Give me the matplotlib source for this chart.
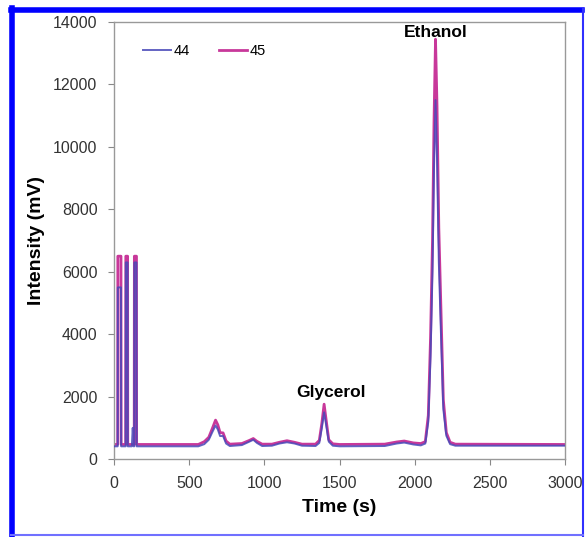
import matplotlib.pyplot as plt
from matplotlib.lines import Line2D

plt.rcParams['font.family'] = ['Liberation Sans', 'DejaVu Sans']

# series 44 (blue)
t44 = [0, 24, 25, 46, 47, 77, 78, 90, 91, 118, 124, 130, 134, 135, 149, 150,
       560, 600, 630, 655, 675, 690, 705, 725, 745, 770, 850, 900, 926, 950, 985,
       1050, 1100, 1150, 1200, 1250, 1340, 1365, 1382, 1397, 1412, 1428, 1455, 1500,
       1800, 1880, 1930, 1990, 2040, 2070, 2090, 2105, 2118, 2128, 2138, 2148,
       2160, 2173, 2190, 2210, 2235, 2270, 3000]
v44 = [410, 410, 5500, 5500, 410, 410, 6300, 6300, 410, 410, 1000, 410, 410, 6300, 6300, 410,
       410, 480, 620, 880, 1080, 950, 740, 740, 500, 420, 450, 560, 620, 520, 420,
       430, 500, 540, 500, 430, 420, 520, 1000, 1500, 1050, 560, 430, 410,
       420, 500, 530, 470, 440, 500, 1200, 3300, 6000, 9300, 11500, 9600,
       6300, 4200, 1600, 750, 480, 430, 430]

# series 45 (magenta)
t45 = [0, 24, 25, 46, 47, 77, 78, 90, 91, 134, 135, 149, 150,
       560, 600, 630, 655, 675, 690, 705, 725, 745, 770, 850, 900, 926, 950, 985,
       1050, 1100, 1150, 1200, 1250, 1340, 1365, 1382, 1397, 1412, 1428, 1455, 1500,
       1800, 1880, 1930, 1990, 2040, 2070, 2090, 2105, 2118, 2128, 2138, 2148,
       2160, 2173, 2190, 2210, 2235, 2270, 3000]
v45 = [470, 470, 6500, 6500, 470, 470, 6500, 6500, 470, 470, 6500, 6500, 470,
       470, 560, 700, 1000, 1250, 1100, 850, 840, 580, 480, 500, 600, 660, 570, 480,
       480, 540, 590, 540, 480, 480, 600, 1150, 1760, 1200, 620, 490, 470,
       480, 550, 580, 520, 500, 560, 1400, 3900, 7000, 10800, 13450, 11300,
       7400, 5000, 1900, 850, 540, 480, 470]

fig = plt.figure(figsize=(5.85, 5.37), dpi=100)
ax = fig.add_axes([0.195, 0.145, 0.771, 0.814])

ax.plot(t45, v45, color='#c8389a', lw=2.0, label='45', zorder=2)
ax.plot(t44, v44, color='#4848b8', lw=1.4, alpha=0.85, label='44', zorder=3)

ax.set_xlim(0, 3000)
ax.set_ylim(0, 14000)
ax.set_xticks(range(0, 3001, 500))
ax.set_yticks(range(0, 14001, 2000))
ax.tick_params(direction='out', length=4, color='#888888', labelsize=11.5,
               labelcolor='#333333', pad=8)
for s in ax.spines.values():
    s.set_color('#999999')
    s.set_linewidth(1.0)

ax.set_xlabel('Time (s)', fontsize=14, fontweight='bold', labelpad=6)
ax.set_ylabel('Intensity (mV)', fontsize=14, fontweight='bold', labelpad=6)

ax.text(2140, 13650, 'Ethanol', ha='center', va='center', fontsize=12.5, fontweight='bold')
ax.text(1440, 2150, 'Glycerol', ha='center', va='center', fontsize=12.5, fontweight='bold')

h, l = ax.get_legend_handles_labels()
ax.legend(h[::-1], l[::-1], ncol=2, frameon=False, fontsize=10.5, handlelength=1.9,
          handletextpad=0.2, columnspacing=2.0, loc='upper left',
          bbox_to_anchor=(0.035, 0.98))

# blue frame around the figure
fig.add_artist(Line2D([0.021, 0.021], [0.0, 0.985], color='#0000ff', lw=4,
                      transform=fig.transFigure))
fig.add_artist(Line2D([0.019, 0.995], [0.981, 0.981], color='#0000ff', lw=4,
                      transform=fig.transFigure))
fig.add_artist(Line2D([0.996, 0.996], [0.0, 0.983], color='#3030ff', lw=1.5,
                      transform=fig.transFigure))
fig.add_artist(Line2D([0.019, 0.996], [0.003, 0.003], color='#7070ff', lw=1.5,
                      transform=fig.transFigure))

fig.savefig('out.png', dpi=100)
